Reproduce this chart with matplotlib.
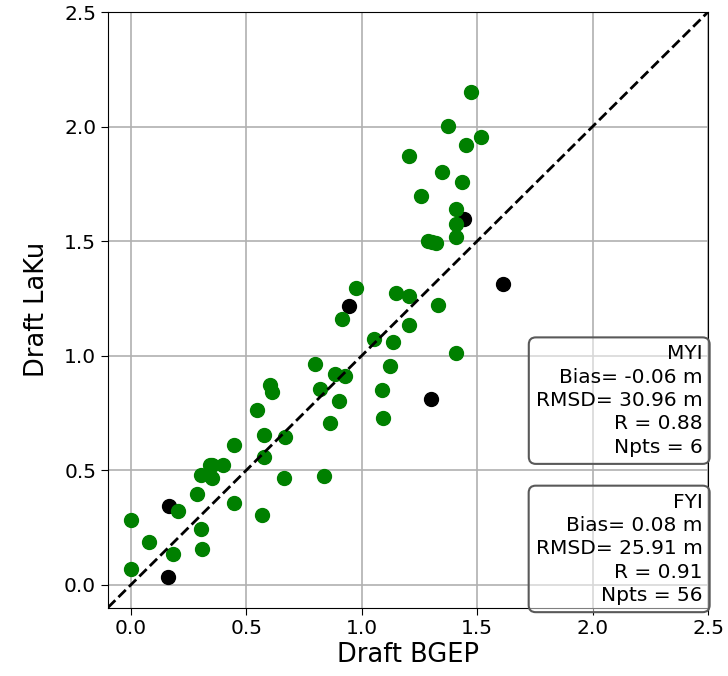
import numpy as np
import matplotlib.pyplot as plt

# MYI points (BGEP draft, LaKu draft)
myi_bgep = [1.443, 1.610, 0.943, 1.300, 0.164, 0.161]
myi_laku = [1.597, 1.314, 1.215, 0.812, 0.342, 0.032]

# FYI points
fyi_bgep = [1.052, 1.135, 0.799, 0.883, 0.926, 0.820, 1.122, 1.086, 0.903, 0.864,
            1.091, 0.835, 0.603, 0.610, 0.545, 0.574, 0.665, 0.574, 0.448, 0.342,
            0.400, 0.303, 0.352, 0.661, 0.287, 0.448, 0.567, 0.204, -0.001, 0.077,
            0.303, 0.309, 0.183, 0.000, 1.472, 1.374, 1.516, 1.451, 1.204, 1.346,
            1.436, 1.255, 1.407, 1.407, 1.407, 1.288, 1.323, 0.975, 0.912, 1.146,
            1.204, 1.332, 1.204, 1.407, 1.305, 0.350]
fyi_laku = [1.073, 1.058, 0.964, 0.920, 0.910, 0.854, 0.953, 0.849, 0.801, 0.706,
            0.728, 0.473, 0.873, 0.840, 0.764, 0.651, 0.645, 0.558, 0.608, 0.524,
            0.520, 0.477, 0.466, 0.466, 0.397, 0.357, 0.306, 0.320, 0.284, 0.188,
            0.243, 0.157, 0.135, 0.069, 2.151, 2.004, 1.953, 1.918, 1.870, 1.801,
            1.757, 1.696, 1.638, 1.575, 1.517, 1.499, 1.492, 1.293, 1.160, 1.271,
            1.262, 1.221, 1.135, 1.012, 1.495, 0.520]

myi_stats = ["MYI", "Bias= -0.06 m", "RMSD= 30.96 m", "R = 0.88", "Npts = 6"]
fyi_stats = ["FYI", "Bias= 0.08 m", "RMSD= 25.91 m", "R = 0.91", "Npts = 56"]

lims = (-0.1, 2.5)
ticks = [0.0, 0.5, 1.0, 1.5, 2.0, 2.5]

fig = plt.figure(figsize=(7.28, 6.76), dpi=100)
ax = fig.add_axes([108 / 728, 1 - 607.5 / 676, 600 / 728, 595.5 / 676])

ax.scatter(myi_bgep, myi_laku, s=100, c='k', zorder=3)
ax.scatter(fyi_bgep, fyi_laku, s=100, c='green', zorder=3)
ax.plot(lims, lims, 'k--', lw=2, zorder=4)

ax.set_xlim(lims)
ax.set_ylim(lims)
ax.set_xticks(ticks)
ax.set_yticks(ticks)
ax.tick_params(labelsize=14.5, length=5)
ax.grid(True, lw=1.2)
ax.set_axisbelow(True)
ax.set_xlabel('Draft BGEP', fontsize=18.5, labelpad=3)
ax.set_ylabel('Draft LaKu', fontsize=18.5, labelpad=10)

box = dict(boxstyle='round,pad=0.35', facecolor=(1, 1, 1, 0.5),
           edgecolor='0.35', lw=1.5)
ax.text(0.991, 0.253, '\n'.join(myi_stats), transform=ax.transAxes, ha='right',
        va='bottom', fontsize=14.5, linespacing=1.29, bbox=box, zorder=5)
ax.text(0.991, 0.004, '\n'.join(fyi_stats), transform=ax.transAxes, ha='right',
        va='bottom', fontsize=14.5, linespacing=1.29, bbox=box, zorder=5)

fig.savefig('out.png', dpi=100)
